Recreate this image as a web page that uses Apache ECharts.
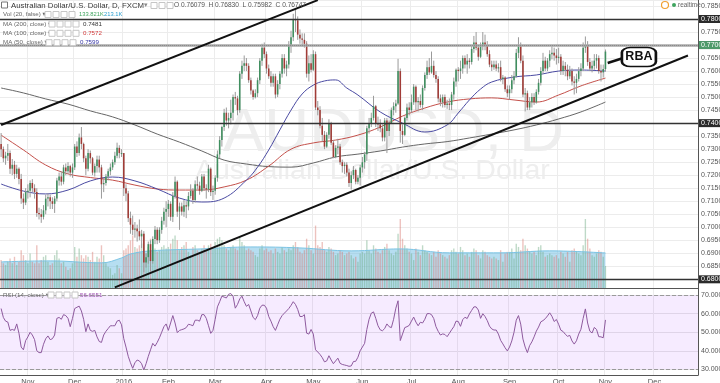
<!DOCTYPE html>
<html><head><meta charset="utf-8">
<script src="https://cdn.jsdelivr.net/npm/echarts/dist/echarts.min.js"></script>
<style>html,body{margin:0;padding:0;background:#fff;overflow:hidden}#c{width:720px;height:383px}</style>
</head><body><div id="c"></div>
<script>
// ---------- DATA (prices in 1e-4 units, volume in K) ----------
const holidays = ['2015-12-25','2016-01-01'];
const monthNames = ['Jan','Feb','Mar','Apr','May','Jun','Jul','Aug','Sep','Oct','Nov','Dec'];
const firstOpen = 7320;

const cOct15=[7300,7265,7275,7285,7225,7240,7205,7225,7185,7110,7095,7135];
const cNov15=[7140,7170,7150,7135,7055,7050,7040,7065,7110,7115,7100,7090,7110,7180,7195,7175,7230,7215,7235,7210,7230];
const cDec15=[7310,7285,7345,7320,7265,7225,7285,7265,7210,7235,7260,7230,7165,7170,7195,7215,7230,7250,7275,7305,7285,7285];
const cJan16=[7150,7130,7035,7010,6990,6995,6985,6965,6975,6865,6885,6935,6870,6955,6990,6950,6990,7025,7060,7070];
const cFeb16=[7090,7040,7120,7175,7060,7080,7060,7085,7080,7120,7140,7105,7165,7160,7140,7195,7150,7145,7225,7135,7140];
const cMar16=[7190,7280,7335,7385,7440,7410,7420,7440,7500,7495,7450,7590,7620,7630,7620,7565,7525,7500,7515,7565,7640,7690,7665];
const cApr16=[7610,7580,7555,7580,7510,7550,7590,7650,7610,7625,7700,7730,7800,7795,7740,7725,7720,7705,7590,7630,7605];
const cMay16=[7665,7460,7450,7390,7355,7310,7355,7400,7325,7270,7305,7310,7250,7235,7240,7210,7170,7200,7220,7175,7190,7230];
const cJun16=[7250,7280,7380,7400,7420,7465,7400,7395,7380,7345,7410,7370,7400,7450,7465,7475,7600,7370,7355,7420,7460,7450];
const cJul16=[7480,7540,7480,7485,7470,7535,7585,7615,7595,7620,7585,7570,7495,7480,7500,7470,7475,7470,7510,7560,7605];
const cAug16=[7600,7610,7650,7625,7640,7635,7685,7710,7690,7655,7695,7710,7700,7665,7625,7615,7625,7610,7615,7570,7575,7530,7515];
const cSep16=[7530,7565,7580,7670,7695,7640,7510,7515,7460,7480,7500,7480,7520,7555,7600,7640,7610,7640,7665,7670,7660,7650];
const cOct16=[7655,7600,7620,7605,7580,7600,7560,7555,7570,7600,7610,7690,7700,7635,7610,7620,7640,7650,7600,7595,7608];
const cNov16=[7675];

const hOct15=[7362,7310,7290,7320,7295,7262,7255,7240,7230,7205,7130,7150];
const hNov15=[7165,7180,7185,7165,7150,7075,7070,7085,7125,7130,7125,7115,7120,7190,7210,7215,7240,7245,7250,7240,7245];
const hDec15=[7320,7330,7360,7385,7325,7275,7300,7295,7270,7245,7275,7275,7240,7190,7205,7225,7245,7260,7290,7325,7315,7300];
const hJan16=[7285,7165,7140,7060,7045,7020,7010,7030,6990,6985,6900,6945,6950,6965,7005,7000,7000,7040,7075,7100];
const hFeb16=[7105,7100,7135,7195,7180,7095,7095,7105,7100,7135,7165,7150,7180,7195,7175,7205,7205,7165,7240,7230,7160];
const hMar16=[7200,7295,7350,7390,7455,7460,7440,7490,7510,7520,7505,7600,7640,7660,7650,7630,7575,7530,7530,7575,7650,7705,7710];
const hApr16=[7675,7625,7600,7590,7590,7565,7600,7665,7665,7640,7715,7755,7820,7835,7810,7760,7745,7745,7715,7660,7665];
const hMay16=[7680,7675,7485,7465,7420,7370,7365,7415,7405,7335,7315,7340,7320,7260,7250,7250,7225,7215,7235,7225,7200,7240];
const hJun16=[7270,7290,7390,7420,7440,7505,7470,7425,7415,7395,7420,7420,7410,7460,7480,7490,7647,7610,7395,7425,7475,7480];
const hJul16=[7510,7550,7545,7500,7510,7545,7595,7640,7650,7675,7640,7600,7580,7510,7510,7510,7490,7495,7520,7575,7610];
const hAug16=[7615,7640,7660,7660,7665,7650,7700,7735,7750,7700,7710,7750,7740,7715,7680,7640,7640,7640,7630,7640,7585,7580,7545];
const hSep16=[7545,7585,7600,7685,7730,7710,7660,7535,7525,7500,7515,7515,7530,7570,7615,7670,7655,7650,7680,7695,7690,7685];
const hOct16=[7690,7665,7640,7635,7625,7620,7610,7580,7590,7615,7630,7710,7733,7715,7650,7640,7665,7665,7660,7625,7625];
const hNov16=[7683];

const lOct15=[7270,7250,7240,7255,7205,7200,7185,7190,7165,7090,7070,7085];
const lNov15=[7110,7115,7135,7110,7040,7030,7017,7030,7050,7080,7070,7070,7055,7100,7160,7160,7165,7200,7205,7195,7190];
const lDec15=[7220,7270,7275,7300,7250,7200,7215,7245,7200,7195,7210,7210,7110,7135,7160,7180,7200,7220,7240,7265,7265,7270];
const lJan16=[7120,7100,7020,6975,6970,6960,6945,6950,6920,6827,6845,6860,6830,6860,6935,6935,6940,6975,7010,7000];
const lFeb16=[7040,7025,7020,7110,7040,6990,7045,7040,7035,7065,7110,7090,7095,7145,7125,7135,7140,7110,7135,7120,7105];
const lMar16=[7125,7175,7265,7310,7370,7390,7380,7395,7410,7470,7430,7440,7570,7600,7600,7555,7510,7490,7495,7500,7550,7620,7650];
const lApr16=[7590,7570,7540,7540,7495,7500,7530,7575,7590,7580,7610,7670,7715,7750,7720,7705,7695,7690,7575,7560,7595];
const lMay16=[7600,7450,7430,7380,7330,7300,7305,7340,7315,7265,7265,7280,7240,7210,7205,7195,7155,7145,7185,7165,7165,7160];
const lJun16=[7210,7225,7255,7360,7385,7410,7385,7370,7365,7330,7330,7285,7350,7400,7430,7440,7470,7325,7320,7350,7410,7430];
const lJul16=[7440,7470,7450,7445,7460,7450,7525,7570,7585,7590,7575,7555,7480,7465,7460,7460,7455,7450,7450,7490,7540];
const lAug16=[7560,7570,7590,7610,7590,7610,7625,7670,7680,7640,7650,7680,7680,7655,7615,7600,7605,7600,7595,7560,7550,7520,7500];
const lSep16=[7490,7515,7550,7575,7650,7630,7500,7445,7450,7450,7460,7470,7475,7510,7545,7590,7600,7600,7615,7645,7640,7625];
const lOct16=[7630,7585,7585,7580,7565,7570,7545,7510,7515,7560,7580,7600,7670,7620,7600,7595,7605,7610,7590,7560,7575];
const lNov16=[7598];

const vOct15=[170,150,140,160,180,150,190,140,160,230,200,170];
const vNov15=[150,210,160,150,260,150,170,190,200,160,140,150,200,230,180,150,160,130,110,120,150];
const vDec15=[250,190,240,200,180,200,190,170,220,160,190,180,260,200,150,130,120,80,90,140,120,90];
const vJan16=[230,240,260,290,320,250,240,260,270,330,210,250,300,280,240,220,230,250,260,240];
const vFeb16=[250,270,300,320,290,230,250,260,280,220,200,250,260,230,220,240,260,230,260,270,240];
const vMar16=[280,300,310,290,260,240,230,250,260,240,230,310,280,260,230,240,230,220,200,190,240,260,230];
const vApr16=[240,220,230,210,240,220,210,250,230,220,240,230,260,280,250,220,210,230,300,260,230];
const vMay16=[210,380,260,250,280,230,220,250,240,220,200,210,230,220,200,210,220,200,180,190,160,210];
const vJun16=[220,210,290,230,210,260,240,220,210,230,250,270,230,210,200,220,330,420,300,260,240,220];
const vJul16=[210,170,240,220,200,260,230,220,210,200,220,190,230,210,200,190,180,200,230,240,220];
const vAug16=[210,250,230,200,210,190,220,240,230,200,180,230,220,200,190,180,190,180,170,230,160,210,220];
const vSep16=[220,240,180,270,250,230,300,260,240,220,210,220,200,250,260,220,190,200,210,200,190,200];
const vOct16=[180,220,210,190,220,160,230,240,220,210,200,260,420,300,240,200,190,210,230,220,190];
const vNov16=[133.821];

const rOct15=[62.8,58,56,55.5,51,51.5,51,54.5,49.5,42,40.5,45.5];
const rNov15=[47.5,50,48.5,46,40,39,39,43.5,46.5,48,46,46.5,48.5,57.5,58,57,59.5,59,57.5,53,57.5];
const rDec15=[62.8,63.5,64.1,61.5,57,50.3,54.5,51,50.5,51,47.5,45,44.5,48.5,50.5,52,53.5,53.5,53.5,56,56.5,54];
const rJan16=[46.5,42,37,33.5,30.5,33.5,35,34.5,33,29.6,33,37,40.5,44,42.5,44.5,47,50,53,54.5];
const rFeb16=[51,55,59,55,49.8,51,51.4,51.8,52.5,54.3,54,53.5,56.5,56.5,56,59.5,59.5,57.5,53.5,49.4,51];
const rMar16=[57,63.7,66.5,69.5,69,68.5,70.5,70.9,69.5,63,65,68,69.5,66.5,64,65,61.5,58,56.8,59,63,64.6,64.6];
const rApr16=[63,58.5,56,53,51,54,57,59,60.3,61.5,62.8,64.5,66.5,65,62.3,58.5,58.5,59.5,49.5,49,51.5];
const rMay16=[49,40.5,39.3,38,36.3,34,34.5,37.3,35,33,34.5,36,33.2,32.6,32.3,32,31.6,31.8,34.2,34.3,36.5,40];
const rJun16=[42,44,51.5,57,60.3,61,57.5,53.5,51.3,50.8,52,54.5,53,52.5,57,63,67,45.5,49,52.5,53,53.7];
const rJul16=[56,58.2,55.5,53.5,55.4,55,57,60,60.1,59.5,57.4,53,50.5,48.5,49.1,48.8,47.6,49.4,51.3,53,56];
const rAug16=[55.8,53.2,56.8,58.1,57.4,59.9,61.8,63.7,63.7,62,57.5,60,58.5,56.3,53.3,51.8,51.2,51.2,49,45.6,43.7,41.6,39.9];
const rSep16=[42,45.3,50,56.5,59,54.4,46.3,42,39,42.8,44.8,47.5,50.6,52.8,55.6,56.3,57.3,58.8,60.5,58.6,55.8,56.9];
const rOct16=[54.3,51.1,50.4,48.9,47.8,48.3,45.3,43.6,45.4,49,51.6,57.5,62.6,55,50.6,49.6,52.6,51.5,47.6,47.5,47];
const rNov16=[56.66];

// moving averages: [candle index, value]
const ma200 = [[0,7535],[10,7516],[20,7493],[30,7473],[40,7447],[50,7424],[60,7393],[70,7358],[80,7327],[90,7293],[100,7258],[110,7243],[120,7233],[130,7231],[140,7247],[150,7270],[160,7281],[170,7293],[180,7308],[190,7320],[200,7329],[210,7343],[220,7358],[230,7374],[240,7393],[250,7416],[260,7443],[271,7481]];
const ma100 = [[0,7354],[10,7297],[20,7239],[30,7205],[40,7191],[50,7181],[60,7162],[70,7147],[80,7143],[90,7143],[100,7155],[110,7181],[120,7235],[130,7300],[140,7324],[150,7335],[160,7354],[170,7385],[180,7427],[190,7458],[200,7481],[210,7493],[220,7497],[230,7489],[240,7481],[250,7508],[260,7543],[271,7573]];
const ma50  = [[0,7166],[10,7139],[20,7128],[30,7143],[40,7178],[50,7193],[60,7178],[70,7147],[80,7112],[90,7097],[100,7112],[110,7181],[115,7231],[120,7297],[125,7374],[130,7450],[135,7512],[140,7546],[145,7562],[150,7566],[155,7535],[160,7508],[170,7443],[180,7400],[190,7366],[200,7393],[205,7439],[210,7489],[215,7531],[220,7558],[230,7577],[240,7585],[250,7600],[260,7604],[271,7600]];
const volMA = [[0,159],[22,165],[45,153],[54,183],[58,207],[67,226],[90,238],[112,250],[134,244],[157,226],[179,238],[201,214],[224,214],[246,226],[271,213.1]];

// horizontal levels and drawn lines (candle index, price)
const levels = [0.78332, 0.73852, 0.68288];
const grayLevel = 0.77346;
const lastPrice = 0.76747;
const upperTrend = [[0,0.73928],[142,0.78725]];
const lowerTrend = [[51,0.67693],[308,0.76598]];
const rbaPointer = [[272,0.7631],[279,0.7650]];
const rbaBox = [286, 0.7654];

// ---------- BUILD ----------
const cat = (...a)=>[].concat(...a);
const closes = cat(cOct15,cNov15,cDec15,cJan16,cFeb16,cMar16,cApr16,cMay16,cJun16,cJul16,cAug16,cSep16,cOct16,cNov16);
const highs  = cat(hOct15,hNov15,hDec15,hJan16,hFeb16,hMar16,hApr16,hMay16,hJun16,hJul16,hAug16,hSep16,hOct16,hNov16);
const lows   = cat(lOct15,lNov15,lDec15,lJan16,lFeb16,lMar16,lApr16,lMay16,lJun16,lJul16,lAug16,lSep16,lOct16,lNov16);
const vols   = cat(vOct15,vNov15,vDec15,vJan16,vFeb16,vMar16,vApr16,vMay16,vJun16,vJul16,vAug16,vSep16,vOct16,vNov16);
const rsi    = cat(rOct15,rNov15,rDec15,rJan16,rFeb16,rMar16,rApr16,rMay16,rJun16,rJul16,rAug16,rSep16,rOct16,rNov16);

const N_CAT = 313;
const dates = [];
{ let d = new Date(Date.UTC(2015,9,15));
  while (dates.length < N_CAT) {
    const wd = d.getUTCDay(); const s = d.toISOString().slice(0,10);
    if (wd !== 0 && wd !== 6 && holidays.indexOf(s) < 0) dates.push(s);
    d.setUTCDate(d.getUTCDate()+1);
  } }
const monthStart = new Set();
for (let i=1;i<dates.length;i++) if (dates[i].slice(5,7)!==dates[i-1].slice(5,7)) monthStart.add(i);

const candles = closes.map((c,i)=>{
  const o = i ? closes[i-1] : firstOpen;
  const h = Math.max(highs[i], o, c), l = Math.min(lows[i], o, c);
  return [i, o/1e4, c/1e4, l/1e4, h/1e4];
});
const UP='#3f8f5f', DOWN='#a13c37', WICK='#9a9a9a';
const volData = vols.map((v,i)=>({value:v, itemStyle:{color: candles[i][2]>=candles[i][1] ? 'rgba(110,170,130,0.45)' : 'rgba(215,120,110,0.45)'}}));
const toP = a => a.map(p=>[p[0], p[1]/1e4]);

const PMIN = 0.785 - 282/2603, PMAX = 0.785 + 6/2603;
const FONT = '"Liberation Sans", Arial, "DejaVu Sans", sans-serif';

const lvlLabel = (bg)=>({show:true, position:'end', distance:1, formatter:p=>Number(p.value).toFixed(5),
  color:'#fff', backgroundColor:bg, padding:[1,2,0,2], fontSize:7, fontFamily:FONT});

const markLineData = [
  ...levels.map(v=>({yAxis:v, lineStyle:{color:'#333', width:1.3, type:'solid'}, label:lvlLabel('#2b2b2b')})),
  {yAxis:grayLevel, lineStyle:{color:'#a8a8a8', width:2.5, type:'solid'}, label:lvlLabel('#2b2b2b')},
  {yAxis:lastPrice, lineStyle:{color:'#8a8a8a', width:1, type:'dotted'}, label:lvlLabel('#4e9a6a')},
  [{coord:upperTrend[0]},{coord:upperTrend[1], lineStyle:{color:'#111', width:2, type:'solid'}, label:{show:false}}],
  [{coord:lowerTrend[0]},{coord:lowerTrend[1], lineStyle:{color:'#111', width:2, type:'solid'}, label:{show:false}}],
  [{coord:rbaPointer[0]},{coord:rbaPointer[1], lineStyle:{color:'#111', width:2.5, type:'solid'}, label:{show:false}}]
];
for (const m of markLineData) if (Array.isArray(m)) { m[0].lineStyle = m[1].lineStyle; m[0].label = {show:false}; }

const graphics = [];
const txt = (text,x,y,size,fill,extra)=>graphics.push({type:'text', z:100, style:Object.assign({text, x, y, font: size+'px '+FONT, fill, textVerticalAlign:'middle', verticalAlign:'middle'}, extra||{})});
const boxes = (x0,y,n)=>{ for(let k=0;k<n;k++) graphics.push({type:'rect', z:100, shape:{x:x0+k*8, y:y-3, width:6, height:6}, style:{fill:'#fff', stroke:'#c6c6c6', lineWidth:1}}); };
// watermark
graphics.push({type:'text', z:0, style:{text:'AUDUSD, D', x:223, y:134, font:'62px '+FONT, fill:'#eeeeee', textVerticalAlign:'middle', verticalAlign:'middle'}});
graphics.push({type:'text', z:0, style:{text:'Australian Dollar/U.S. Dollar', x:195, y:171, font:'28.5px '+FONT, fill:'#eeeeee', textVerticalAlign:'middle', verticalAlign:'middle'}});
// header
graphics.push({type:'rect', z:100, shape:{x:1.5, y:2, width:6, height:6}, style:{fill:'#fff', stroke:'#777', lineWidth:1}});
txt('Australian Dollar/U.S. Dollar, D, FXCM',11,5.5,7.8,'#3a3a3a');
txt('\u25BE',144,5.5,7,'#888'); boxes(151,5.5,3);
txt('O 0.76079  H 0.76830  L 0.75982  C 0.76747',174,5.5,6.6,'#555');
txt('Vol (20, false) \u25BE',3,14.5,6.2,'#666'); boxes(45,14.5,4);
txt('133.821K',79,14.5,5.8,'#3fa45f'); txt('213.1K',104,14.5,5.8,'#2b9fd0');
txt('MA (200, close) \u25BE',3,24,6.2,'#666'); boxes(49,24,4); txt('0.7481',83,24,6.2,'#333');
txt('MA (100, close) \u25BE',3,33.3,6.2,'#666'); boxes(49,33.3,4); txt('0.7572',83,33.3,6.2,'#d23a3a');
txt('MA (50, close) \u25BE',3,42.7,6.2,'#666'); boxes(46,42.7,4); txt('0.7599',80,42.7,6.2,'#3535a5');
txt('RSI (14, close) \u25BE',3,295,6.2,'#666'); boxes(48,295,4); txt('56.6551',80,295,6.2,'#9b4fae');
// realtime
graphics.push({type:'circle', z:100, shape:{cx:665, cy:5, r:3.5}, style:{fill:'#fff', stroke:'#f0a030', lineWidth:1.2}});
graphics.push({type:'circle', z:100, shape:{cx:674, cy:5, r:2}, style:{fill:'#3fa45f'}});
txt('realtime',678,5.5,6.4,'#666');

const option = {
  animation:false, backgroundColor:'#fff',
  textStyle:{fontFamily:FONT},
  grid:[
    {left:0, right:22, top:0, height:288, outerBoundsMode:'none', containLabel:false},
    {left:0, right:22, top:288, height:87, outerBoundsMode:'none', containLabel:false}
  ],
  xAxis:[
    {type:'category', gridIndex:0, data:dates, boundaryGap:true,
     axisLine:{show:true, lineStyle:{color:'#555'}}, axisTick:{show:false}, axisLabel:{show:false},
     splitLine:{show:true, interval:(i)=>monthStart.has(i), lineStyle:{color:'#ececec'}}},
    {type:'category', gridIndex:1, data:dates, boundaryGap:true,
     axisLine:{show:true, lineStyle:{color:'#555'}}, axisTick:{show:false},
     axisLabel:{interval:(i)=>monthStart.has(i), margin:3, fontSize:7.5, color:'#555',
       formatter:(v)=>{ const m=+v.slice(5,7); return m===1 ? v.slice(0,4) : monthNames[m-1]; }},
     splitLine:{show:true, interval:(i)=>monthStart.has(i), lineStyle:{color:'#ececec'}}}
  ],
  yAxis:[
    {type:'value', gridIndex:0, position:'right', min:PMIN, max:PMAX, splitNumber:22,
     axisLine:{show:true, lineStyle:{color:'#555'}}, axisTick:{show:false},
     axisLabel:{formatter:v=>v.toFixed(5), fontSize:7, color:'#555', margin:3, showMinLabel:false, showMaxLabel:false},
     splitLine:{show:true, lineStyle:{color:'#ececec'}}},
    {type:'value', gridIndex:0, min:0, max:1753, show:false, splitLine:{show:false}},
    {type:'value', gridIndex:1, position:'right', min:26.9, max:73.9, splitNumber:5,
     axisLine:{show:true, lineStyle:{color:'#555'}}, axisTick:{show:false},
     axisLabel:{formatter:v=>v.toFixed(4), fontSize:7, color:'#555', margin:3, showMinLabel:false, showMaxLabel:false},
     splitLine:{show:true, lineStyle:{color:'#e6e6e6'}}}
  ],
  graphic:graphics,
  series:[
    {type:'bar', name:'Vol', xAxisIndex:0, yAxisIndex:1, data:volData, barWidth:'62%', z:1, silent:true},
    {type:'line', name:'VolMA', xAxisIndex:0, yAxisIndex:1, data:volMA, smooth:0.4, connectNulls:true, showSymbol:false, symbol:'none',
     lineStyle:{color:'#7cc4e4', width:1}, areaStyle:{color:'rgba(110,190,228,0.72)', origin:'start'}, z:1, silent:true},
    {type:'line', name:'MA200', xAxisIndex:0, yAxisIndex:0, data:toP(ma200), smooth:0.4, symbol:'none', lineStyle:{color:'#666', width:1}, z:2},
    {type:'line', name:'MA100', xAxisIndex:0, yAxisIndex:0, data:toP(ma100), smooth:0.4, symbol:'none', lineStyle:{color:'#c4504a', width:1}, z:2},
    {type:'line', name:'MA50', xAxisIndex:0, yAxisIndex:0, data:toP(ma50), smooth:0.4, symbol:'none', lineStyle:{color:'#4a4aa2', width:1}, z:2,
     markLine:{symbol:['none','none'], silent:true, animation:false, data:markLineData, z:5},
     markPoint:{silent:true, animation:false, z:6, data:[{coord:rbaBox, symbol:'roundRect', symbolSize:[34,19],
       itemStyle:{color:'#fff', borderColor:'#111', borderWidth:2},
       label:{show:true, position:'inside', formatter:'RBA', fontWeight:'bold', fontSize:12.5, color:'#111', fontFamily:FONT}}]}},
    {type:'custom', name:'AUDUSD', xAxisIndex:0, yAxisIndex:0, data:candles, z:4, clip:true,
     encode:{x:0, y:[1,2,3,4]},
     renderItem:(params, api)=>{
       const i=api.value(0), o=api.value(1), c=api.value(2), l=api.value(3), h=api.value(4);
       const pO=api.coord([i,o]), pC=api.coord([i,c]), pL=api.coord([i,l]), pH=api.coord([i,h]);
       const w=api.size([1,0])[0]*0.7;
       const top=Math.min(pO[1],pC[1]), hh=Math.max(1,Math.abs(pO[1]-pC[1]));
       return {type:'group', children:[
         {type:'line', shape:{x1:pL[0], y1:pL[1], x2:pH[0], y2:pH[1]}, style:{stroke:WICK, lineWidth:1}},
         {type:'rect', shape:{x:pO[0]-w/2, y:top, width:w, height:hh}, style:{fill: c>=o?UP:DOWN}}
       ]};
     }},
    {type:'line', name:'RSI', xAxisIndex:1, yAxisIndex:2, data:rsi, symbol:'none', lineStyle:{color:'#8e5a9e', width:1}, z:3,
     markArea:{silent:true, itemStyle:{color:'rgba(153,21,255,0.085)'}, data:[[{yAxis:30},{yAxis:70}]]},
     markLine:{silent:true, symbol:['none','none'], label:{show:false}, lineStyle:{color:'#9a9a9a', type:'dashed', width:1},
       data:[{yAxis:70},{yAxis:30}]}}
  ]
};
const chart = echarts.init(document.getElementById('c'), null, {renderer:'canvas', devicePixelRatio:1});
chart.setOption(option);
</script></body></html>
